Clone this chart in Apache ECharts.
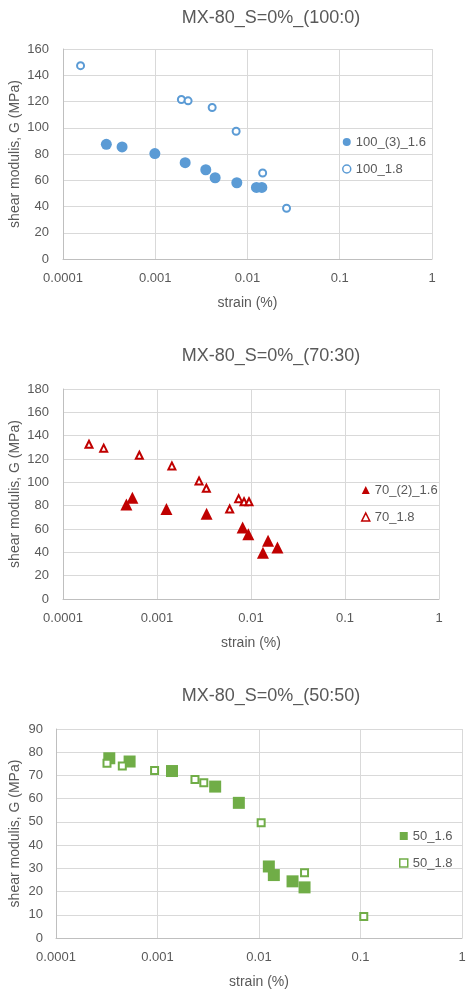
<!DOCTYPE html>
<html>
<head>
<meta charset="utf-8">
<script src="https://cdn.jsdelivr.net/npm/echarts@6/dist/echarts.min.js"></script>
<style>
html,body{margin:0;padding:0;background:#fff;}
#main{width:468px;height:992px;}
</style>
</head>
<body>
<div id="main"></div>
<script>
// ---- data ----
const titles = ['MX-80_S=0%_(100:0)', 'MX-80_S=0%_(70:30)', 'MX-80_S=0%_(50:50)'];
const xTickLabels = ['0.0001', '0.001', '0.01', '0.1', '1'];
const xAxisName = 'strain (%)';
const yAxisName = 'shear modulis, G (MPa)';
const yMax = [160, 180, 90];
const yInterval = [20, 20, 10];

// chart 1 (100:0)
const s100_16_name = '100_(3)_1.6';
const s100_16_x = [0.000295, 0.000437, 0.00099, 0.00211, 0.00353, 0.00446, 0.00766, 0.0125, 0.0143];
const s100_16_y = [87.4, 85.4, 80.3, 73.4, 68.0, 61.9, 58.1, 54.5, 54.5];
const s100_18_name = '100_1.8';
const s100_18_x = [0.000155, 0.00192, 0.00227, 0.00414, 0.00753, 0.0146, 0.0265];
const s100_18_y = [147.3, 121.5, 120.5, 115.4, 97.3, 65.5, 38.7];

// chart 2 (70:30)
const s70_16_name = '70_(2)_1.6';
const s70_16_x = [0.000472, 0.000547, 0.00126, 0.00337, 0.00815, 0.00937, 0.0152, 0.0134, 0.0191];
const s70_16_y = [81.1, 86.8, 77.1, 73.1, 61.3, 55.6, 49.9, 39.6, 44.1];
const s70_18_name = '70_1.8';
const s70_18_x = [0.000189, 0.000271, 0.000649, 0.00144, 0.0028, 0.00335, 0.00593, 0.00739, 0.00843, 0.00952];
const s70_18_y = [132.7, 129.3, 123.2, 114.1, 101.2, 94.9, 77.1, 86.0, 83.4, 83.4];

// chart 3 (50:50)
const s50_16_name = '50_1.6';
const s50_16_x = [0.000335, 0.000531, 0.00139, 0.0037, 0.00633, 0.0125, 0.014, 0.0214, 0.0281];
const s50_16_y = [77.4, 76.0, 71.9, 65.2, 58.2, 30.8, 27.1, 24.4, 21.8];
const s50_18_name = '50_1.8';
const s50_18_x = [0.000318, 0.00045, 0.000936, 0.00234, 0.00286, 0.0105, 0.0281, 0.1077];
const s50_18_y = [75.2, 74.1, 72.1, 68.2, 66.9, 49.6, 28.1, 9.3];

// ---- styles ----
const FONT = 'Liberation Sans';
const TXT = '#595959';
const GRIDC = '#D9D9D9';
const BLUE = '#5B9BD5', RED = '#C00000', GREEN = '#70AD47';

function zip(xs, ys) { return xs.map((x, i) => [x, ys[i]]); }

const grids = [
  {left: 63, top: 49, width: 369, height: 210, containLabel: false, outerBoundsMode: 'none'},
  {left: 63, top: 389, width: 376, height: 210, containLabel: false, outerBoundsMode: 'none'},
  {left: 56, top: 729, width: 406, height: 209, containLabel: false, outerBoundsMode: 'none'}
];
const titleTops = [9, 347, 687];
const yNameGaps = [41, 41, 34];
const yLabelMargins = [14, 14, 13];
const legendPos = [{left: 342, top: 135}, {left: 361, top: 483}, {left: 399, top: 829}];

const xAxes = grids.map((g, i) => ({
  type: 'log', logBase: 10, min: 0.0001, max: 1, gridIndex: i,
  name: xAxisName, nameLocation: 'middle', nameGap: 37, nameMoveOverlap: false,
  nameTextStyle: {color: TXT, fontSize: 14, fontFamily: FONT},
  axisLine: {show: true, lineStyle: {color: '#BFBFBF', width: 1}},
  axisTick: {show: false},
  splitLine: {show: true, lineStyle: {color: GRIDC, width: 1}},
  minorSplitLine: {show: false},
  axisLabel: {color: TXT, fontSize: 13, fontFamily: FONT, margin: 13,
    formatter: v => xTickLabels[Math.round(Math.log10(v)) + 4]}
}));
const yAxes = grids.map((g, i) => ({
  type: 'value', min: 0, max: yMax[i], interval: yInterval[i], gridIndex: i,
  name: yAxisName, nameLocation: 'middle', nameGap: yNameGaps[i], nameMoveOverlap: false,
  nameTextStyle: {color: TXT, fontSize: 14, fontFamily: FONT},
  axisLine: {show: true, lineStyle: {color: '#BFBFBF', width: 1}},
  axisTick: {show: false},
  splitLine: {show: true, lineStyle: {color: GRIDC, width: 1}},
  axisLabel: {color: TXT, fontSize: 13, fontFamily: FONT, margin: yLabelMargins[i]}
}));

function filled(name, xs, ys, sym, size, color, gi) {
  return {name, type: 'scatter', xAxisIndex: gi, yAxisIndex: gi, symbol: sym, symbolSize: size,
    itemStyle: {color: color, opacity: 1}, data: zip(xs, ys), z: 3};
}
function open(name, xs, ys, sym, size, color, gi) {
  return {name, type: 'scatter', xAxisIndex: gi, yAxisIndex: gi, symbol: sym, symbolSize: size,
    itemStyle: {color: '#fff', borderColor: color, borderWidth: 2, opacity: 1}, data: zip(xs, ys), z: 4};
}

const series = [
  filled(s100_16_name, s100_16_x, s100_16_y, 'circle', 11, BLUE, 0),
  open(s100_18_name, s100_18_x, s100_18_y, 'circle', 7, BLUE, 0),
  filled(s70_16_name, s70_16_x, s70_16_y, 'triangle', 12, RED, 1),
  open(s70_18_name, s70_18_x, s70_18_y, 'triangle', 7, RED, 1),
  filled(s50_16_name, s50_16_x, s50_16_y, 'rect', 12, GREEN, 2),
  open(s50_18_name, s50_18_x, s50_18_y, 'rect', 7, GREEN, 2)
];

const legendDefs = [
  [[s100_16_name, 'circle', BLUE, true], [s100_18_name, 'circle', BLUE, false]],
  [[s70_16_name, 'triangle', RED, true], [s70_18_name, 'triangle', RED, false]],
  [[s50_16_name, 'rect', GREEN, true], [s50_18_name, 'rect', GREEN, false]]
];
const legends = legendDefs.map((defs, i) => ({
  orient: 'vertical', left: legendPos[i].left, top: legendPos[i].top, padding: 0,
  itemWidth: 8, itemHeight: 8, itemGap: 13,
  textStyle: {color: TXT, fontSize: 13, fontFamily: FONT, lineHeight: 14},
  data: defs.map(d => ({name: d[0], icon: d[1],
    itemStyle: d[3] ? {color: d[2], borderWidth: 0} : {color: '#fff', borderColor: d[2], borderWidth: 1.5}}))
}));

const titleOpts = titles.map((t, i) => ({
  text: t, left: 271, top: titleTops[i], textAlign: 'center', padding: 0,
  textStyle: {color: TXT, fontSize: 18, fontWeight: 'normal', fontFamily: FONT}
}));

const chart = echarts.init(document.getElementById('main'), null, {renderer: 'canvas'});
chart.setOption({
  backgroundColor: '#fff',
  animation: false,
  title: titleOpts,
  legend: legends,
  grid: grids,
  xAxis: xAxes,
  yAxis: yAxes,
  series: series
});
</script>
</body>
</html>
